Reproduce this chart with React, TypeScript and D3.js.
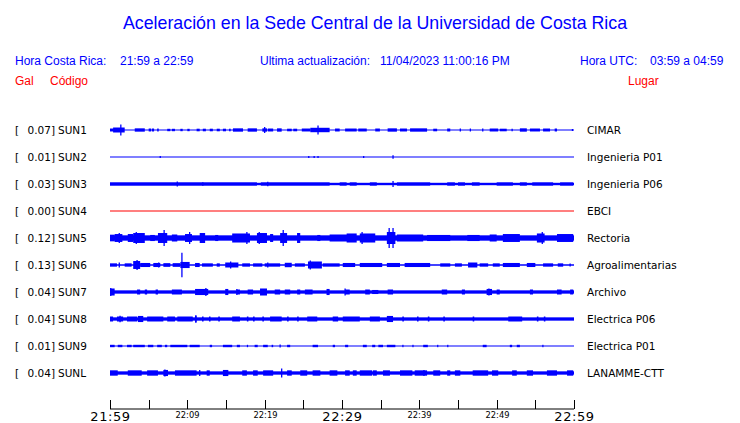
import React from "react";
import * as d3 from "d3";

const codes = ["SUN1", "SUN2", "SUN3", "SUN4", "SUN5", "SUN6", "SUN7", "SUN8", "SUN9", "SUNL"];
const peaks = [0.07, 0.01, 0.03, 0.0, 0.12, 0.13, 0.04, 0.04, 0.01, 0.04];
const places = ["CIMAR", "Ingenieria P01", "Ingenieria P06", "EBCI", "Rectoria", "Agroalimentarias", "Archivo", "Electrica P06", "Electrica P01", "LANAMME-CTT"];
const baseAmp = [0.005, 0.005, 0.013, 0.005, 0.029, 0.008, 0.018, 0.018, 0.005, 0.018];
const traceColors = ["#0000ff", "#0000ff", "#0000ff", "#ff0000", "#0000ff", "#0000ff", "#0000ff", "#0000ff", "#0000ff", "#0000ff"];

// bursts: [startMinute, endMinute, halfAmplitude Gal]
const bursts1 = [
  [0, 0.5, 0.016], [0.4, 1.9, 0.027], [3.2, 4.5, 0.018], [5.0, 5.3, 0.016], [5.4, 5.7, 0.016], [6.1, 6.3, 0.016],
  [7.4, 7.8, 0.013], [8.0, 8.4, 0.013], [9.1, 9.4, 0.013], [10.0, 10.3, 0.013], [11.2, 11.6, 0.014], [12.0, 12.4, 0.014],
  [12.9, 13.3, 0.014], [13.8, 14.2, 0.014], [14.6, 15.0, 0.014], [15.4, 15.6, 0.014], [15.9, 17.2, 0.018], [17.8, 19.0, 0.018],
  [19.7, 20.3, 0.018], [20.4, 21.1, 0.016], [21.6, 22.2, 0.018], [22.9, 23.5, 0.014], [23.7, 24.2, 0.014], [24.8, 25.9, 0.016],
  [25.9, 28.4, 0.024], [29.1, 29.7, 0.016], [30.4, 31.9, 0.016], [32.1, 33.2, 0.016], [34.3, 34.9, 0.016], [35.9, 37.1, 0.018],
  [37.5, 38.4, 0.016], [38.8, 41.0, 0.018], [41.8, 42.3, 0.014], [43.6, 44.0, 0.016], [49.1, 50.2, 0.016], [50.4, 51.3, 0.014],
  [53.0, 53.9, 0.018], [54.3, 55.6, 0.016], [56.0, 56.9, 0.016], [57.5, 57.8, 0.016],
];
const bursts2: number[][] = [];
const bursts3 = [
  [0, 19.0, 0.018], [19.5, 28.4, 0.018], [29.7, 30.6, 0.018], [31.0, 31.9, 0.018], [33.6, 34.5, 0.018], [37.1, 41.4, 0.018],
  [43.6, 44.6, 0.018], [45.0, 45.9, 0.018], [46.8, 47.8, 0.018], [50.0, 52.1, 0.018], [53.0, 53.9, 0.018], [54.6, 57.3, 0.018],
  [58.2, 59.9, 0.018],
];
const bursts4: number[][] = [];
const bursts5 = [
  [0, 0.6, 0.036], [0.6, 1.6, 0.043], [2.3, 3.0, 0.043], [3.0, 4.5, 0.054], [5.2, 5.8, 0.033], [6.2, 7.4, 0.054],
  [8.0, 8.7, 0.038], [9.7, 10.6, 0.043], [11.6, 12.3, 0.054], [13.6, 14.0, 0.033], [15.8, 18.1, 0.049], [19.0, 20.3, 0.054],
  [20.7, 21.1, 0.043], [22.0, 22.9, 0.054], [24.2, 24.6, 0.054], [26.8, 27.2, 0.033], [28.4, 31.0, 0.038], [30.6, 31.9, 0.049],
  [32.3, 34.3, 0.049], [35.8, 36.9, 0.065], [37.1, 40.5, 0.038], [41.0, 44.0, 0.033], [46.2, 47.8, 0.033], [49.1, 50.0, 0.038],
  [50.8, 53.0, 0.043], [55.2, 56.2, 0.049], [57.8, 59.9, 0.043],
];
const bursts6 = [
  [0, 0.9, 0.018], [1.9, 2.8, 0.018], [3.0, 3.9, 0.043], [3.9, 5.2, 0.022], [5.6, 6.5, 0.022], [6.9, 7.8, 0.02],
  [8.1, 9.1, 0.02], [9.1, 10.3, 0.033], [11.0, 11.6, 0.022], [11.9, 13.3, 0.018], [13.8, 14.2, 0.018], [14.9, 16.6, 0.027],
  [17.1, 18.1, 0.018], [18.5, 19.7, 0.018], [20.0, 22.0, 0.018], [22.6, 23.5, 0.024], [23.9, 25.2, 0.018], [25.6, 27.4, 0.038],
  [27.5, 29.7, 0.018], [30.1, 31.7, 0.022], [32.3, 35.2, 0.022], [35.8, 37.5, 0.022], [38.1, 41.4, 0.022], [42.7, 44.0, 0.018],
  [44.6, 45.5, 0.018], [46.3, 47.5, 0.027], [47.8, 48.9, 0.018], [49.5, 50.4, 0.018], [50.8, 53.0, 0.022], [53.9, 55.0, 0.022],
  [56.0, 57.3, 0.018], [57.9, 58.6, 0.018],
];
const bursts7 = [
  [0, 0.6, 0.038], [3.5, 3.9, 0.027], [4.5, 4.8, 0.027], [5.9, 6.2, 0.027], [8.0, 9.3, 0.027], [11.0, 12.7, 0.033],
  [14.9, 15.3, 0.033], [16.4, 16.8, 0.027], [17.8, 18.5, 0.027], [19.4, 20.3, 0.038], [21.3, 22.0, 0.027], [22.6, 23.3, 0.027],
  [24.2, 24.6, 0.027], [25.2, 26.2, 0.027], [28.0, 28.4, 0.033], [30.4, 31.0, 0.027], [33.0, 33.6, 0.027], [33.9, 34.7, 0.022],
  [35.9, 36.6, 0.027], [42.9, 43.6, 0.027], [45.5, 45.9, 0.027], [48.7, 49.4, 0.033], [50.0, 50.4, 0.027], [54.3, 54.7, 0.027],
  [57.8, 58.4, 0.027], [59.5, 59.9, 0.027],
];
const bursts8 = [
  [0, 0.4, 0.027], [0.9, 1.7, 0.027], [2.2, 3.5, 0.027], [3.6, 4.3, 0.033], [4.8, 6.9, 0.027], [7.4, 8.4, 0.027],
  [8.7, 10.7, 0.027], [11.0, 11.2, 0.038], [11.9, 12.1, 0.027], [12.8, 13.0, 0.027], [14.0, 14.2, 0.027], [15.8, 16.8, 0.027],
  [17.7, 17.9, 0.027], [18.5, 18.7, 0.027], [19.7, 19.9, 0.027], [20.7, 22.2, 0.027], [22.9, 23.1, 0.027], [24.2, 24.4, 0.027],
  [25.5, 26.8, 0.027], [28.8, 29.5, 0.027], [30.1, 32.3, 0.027], [33.6, 34.9, 0.027], [35.8, 36.6, 0.033], [37.8, 38.0, 0.027],
  [39.7, 39.9, 0.027], [41.1, 41.3, 0.027], [43.1, 43.3, 0.027], [46.9, 47.1, 0.027], [51.5, 53.3, 0.027], [55.2, 55.4, 0.027],
  [56.1, 56.3, 0.027],
];
const bursts9 = [
  [0, 0.6, 0.013], [1.0, 1.6, 0.013], [2.2, 2.8, 0.013], [3.0, 4.5, 0.013], [4.9, 5.6, 0.013], [6.1, 6.7, 0.013],
  [7.1, 7.4, 0.013], [7.8, 10.0, 0.013], [10.3, 11.6, 0.013], [12.9, 13.2, 0.013], [14.6, 15.8, 0.013], [16.4, 16.8, 0.013],
  [17.7, 17.8, 0.013], [18.7, 19.1, 0.013], [19.8, 20.4, 0.013], [20.9, 21.1, 0.013], [22.9, 23.3, 0.013], [26.2, 26.9, 0.013],
  [28.8, 29.1, 0.013], [30.4, 30.8, 0.013], [32.7, 33.2, 0.013], [33.9, 34.3, 0.013], [34.7, 35.3, 0.013], [35.8, 36.9, 0.013],
  [37.8, 37.9, 0.013], [39.1, 39.2, 0.013], [40.5, 41.1, 0.013], [42.3, 42.4, 0.013], [43.6, 43.7, 0.013], [48.2, 48.7, 0.013],
  [51.7, 52.0, 0.013], [52.6, 53.0, 0.013], [55.9, 56.0, 0.013],
];
const bursts10 = [
  [0, 1.0, 0.029], [2.3, 4.1, 0.029], [4.8, 6.2, 0.029], [6.9, 7.5, 0.033], [8.4, 11.2, 0.029], [12.5, 12.9, 0.029],
  [14.6, 15.3, 0.033], [17.1, 17.7, 0.029], [18.5, 19.1, 0.029], [19.8, 21.1, 0.029], [22.9, 23.5, 0.029], [24.6, 25.5, 0.029],
  [26.2, 27.2, 0.029], [28.4, 29.4, 0.029], [30.4, 31.0, 0.029], [31.4, 31.9, 0.029], [32.3, 33.9, 0.029], [34.0, 34.5, 0.029],
  [35.3, 36.2, 0.029], [37.5, 39.1, 0.029], [39.4, 41.0, 0.029], [41.8, 42.7, 0.029], [43.6, 44.0, 0.029], [44.6, 45.3, 0.029],
  [46.9, 48.9, 0.029], [49.4, 50.2, 0.029], [52.0, 52.6, 0.029], [53.9, 54.7, 0.029], [56.5, 57.8, 0.029], [59.1, 59.9, 0.029],
];

// spikes: [minute, halfAmplitude Gal]
const spikes1 = [[1.4, 0.06], [20.0, 0.033], [26.9, 0.049], [45.3, 0.016], [46.6, 0.016], [48.2, 0.016], [52.0, 0.013], [59.8, 0.011]];
const spikes2 = [[6.5, 0.011], [25.7, 0.011], [26.4, 0.011], [26.9, 0.011], [32.8, 0.011], [36.6, 0.018]];
const spikes3 = [[8.7, 0.027], [12.0, 0.02], [20.4, 0.025], [36.6, 0.033]];
const spikes4: number[][] = [];
const spikes5 = [[1.2, 0.054], [3.4, 0.065], [7.0, 0.087], [10.3, 0.065], [17.7, 0.065], [19.3, 0.065], [22.4, 0.087], [24.3, 0.054], [32.6, 0.065], [36.1, 0.108], [36.6, 0.108], [55.9, 0.065]];
const spikes6 = [[1.2, 0.027], [3.5, 0.054], [6.3, 0.027], [9.3, 0.133], [15.6, 0.038], [20.4, 0.027], [25.9, 0.049], [59.5, 0.016]];
const spikes7 = [[0.1, 0.043], [12.4, 0.043], [16.4, 0.033], [30.4, 0.038], [49.0, 0.038]];
const spikes8 = [[1.3, 0.036], [11.1, 0.038], [36.2, 0.033]];
const spikes9 = [[22.0, 0.016]];
const spikes10 = [[7.1, 0.038], [11.6, 0.033], [15.0, 0.033], [22.2, 0.049], [40.6, 0.033]];

const allBursts = [bursts1, bursts2, bursts3, bursts4, bursts5, bursts6, bursts7, bursts8, bursts9, bursts10];
const allSpikes = [spikes1, spikes2, spikes3, spikes4, spikes5, spikes6, spikes7, spikes8, spikes9, spikes10];

const tickMinutes = d3.range(0, 61, 5);
const tickLabels = ["21:59", "", "22:09", "", "22:19", "", "22:29", "", "22:39", "", "22:49", "", "22:59"];
const bigLabels = ["21:59", "22:29", "22:59"];

const BLUE = "#0000ff";
const RED = "#ff0000";
const SANS = "'Liberation Sans', Arial, sans-serif";
const DEJA = "'DejaVu Sans', sans-serif";

export default function App() {
  const W = 740, H = 423;
  const x = d3.scaleLinear().domain([0, 60]).range([110, 574]);
  const y = d3.scalePoint<string>().domain(codes).range([130, 373]);
  const amp = d3.scaleLinear().domain([0, 0.13]).range([0, 12]);
  const axisY = 409;

  return (
    <svg width={W} height={H} style={{ position: "absolute", left: 0, top: 0, background: "#fff" }}>
      <rect x={0} y={0} width={W} height={H} fill="#fff" />
      <text x={375} y={29} textAnchor="middle" fontFamily={SANS} fontSize={17.8} fill={BLUE}>
        Aceleración en la Sede Central de la Universidad de Costa Rica
      </text>
      <g fontFamily={SANS} fontSize={12} fill={BLUE}>
        <text x={15} y={65}>Hora Costa Rica:</text>
        <text x={120} y={65}>21:59 a 22:59</text>
        <text x={260} y={65}>Ultima actualización:</text>
        <text x={380} y={65}>11/04/2023 11:00:16 PM</text>
        <text x={580} y={65}>Hora UTC:</text>
        <text x={650} y={65}>03:59 a 04:59</text>
      </g>
      <g fontFamily={SANS} fontSize={12} fill={RED}>
        <text x={15} y={85}>Gal</text>
        <text x={50} y={85}>Código</text>
        <text x={628} y={85}>Lugar</text>
      </g>

      {codes.map((c, i) => {
        const cy = y(c) as number;
        const col = traceColors[i];
        const bh = Math.max(amp(baseAmp[i]), 0.5);
        return (
          <g key={c}>
            <g fontFamily={DEJA} fontSize={10.5} fill="#000">
              <text x={15} y={cy + 4}>[</text>
              <text x={55} y={cy + 4} textAnchor="end">{peaks[i].toFixed(2)}]</text>
              <text x={58} y={cy + 4}>{c}</text>
              <text x={587} y={cy + 4}>{places[i]}</text>
            </g>
            <rect x={x(0)} y={cy - bh} width={x(60) - x(0)} height={2 * bh} fill={col} />
            {allBursts[i].map((b, j) => {
              const x0 = x(b[0]);
              const w = Math.max(x(b[1]) - x0, 1.2);
              const h = amp(b[2]);
              return <rect key={j} x={x0} y={cy - h} width={w} height={2 * h} fill={col} />;
            })}
            {allSpikes[i].map((s, j) => {
              const sx = x(s[0]);
              const h = amp(s[1]);
              return <line key={j} x1={sx} x2={sx} y1={cy - h} y2={cy + h} stroke={col} strokeWidth={1.3} />;
            })}
          </g>
        );
      })}

      <g>
        <line x1={x(0)} x2={x(60)} y1={axisY} y2={axisY} stroke="#000" strokeWidth={1} />
        {tickMinutes.map((m, i) => {
          const tx = Math.round(x(m)) + 0.5;
          const lab = tickLabels[i];
          const big = bigLabels.includes(lab);
          return (
            <g key={m}>
              <line x1={tx} x2={tx} y1={axisY - 9} y2={axisY} stroke="#000" strokeWidth={1} />
              {lab && (
                <text
                  x={tx}
                  y={big ? 421 : 418}
                  textAnchor="middle"
                  fontFamily={DEJA}
                  fontSize={big ? 13 : 8.3}
                  letterSpacing={big ? 0.6 : 0}
                  fill="#000"
                >
                  {lab}
                </text>
              )}
            </g>
          );
        })}
      </g>
    </svg>
  );
}
